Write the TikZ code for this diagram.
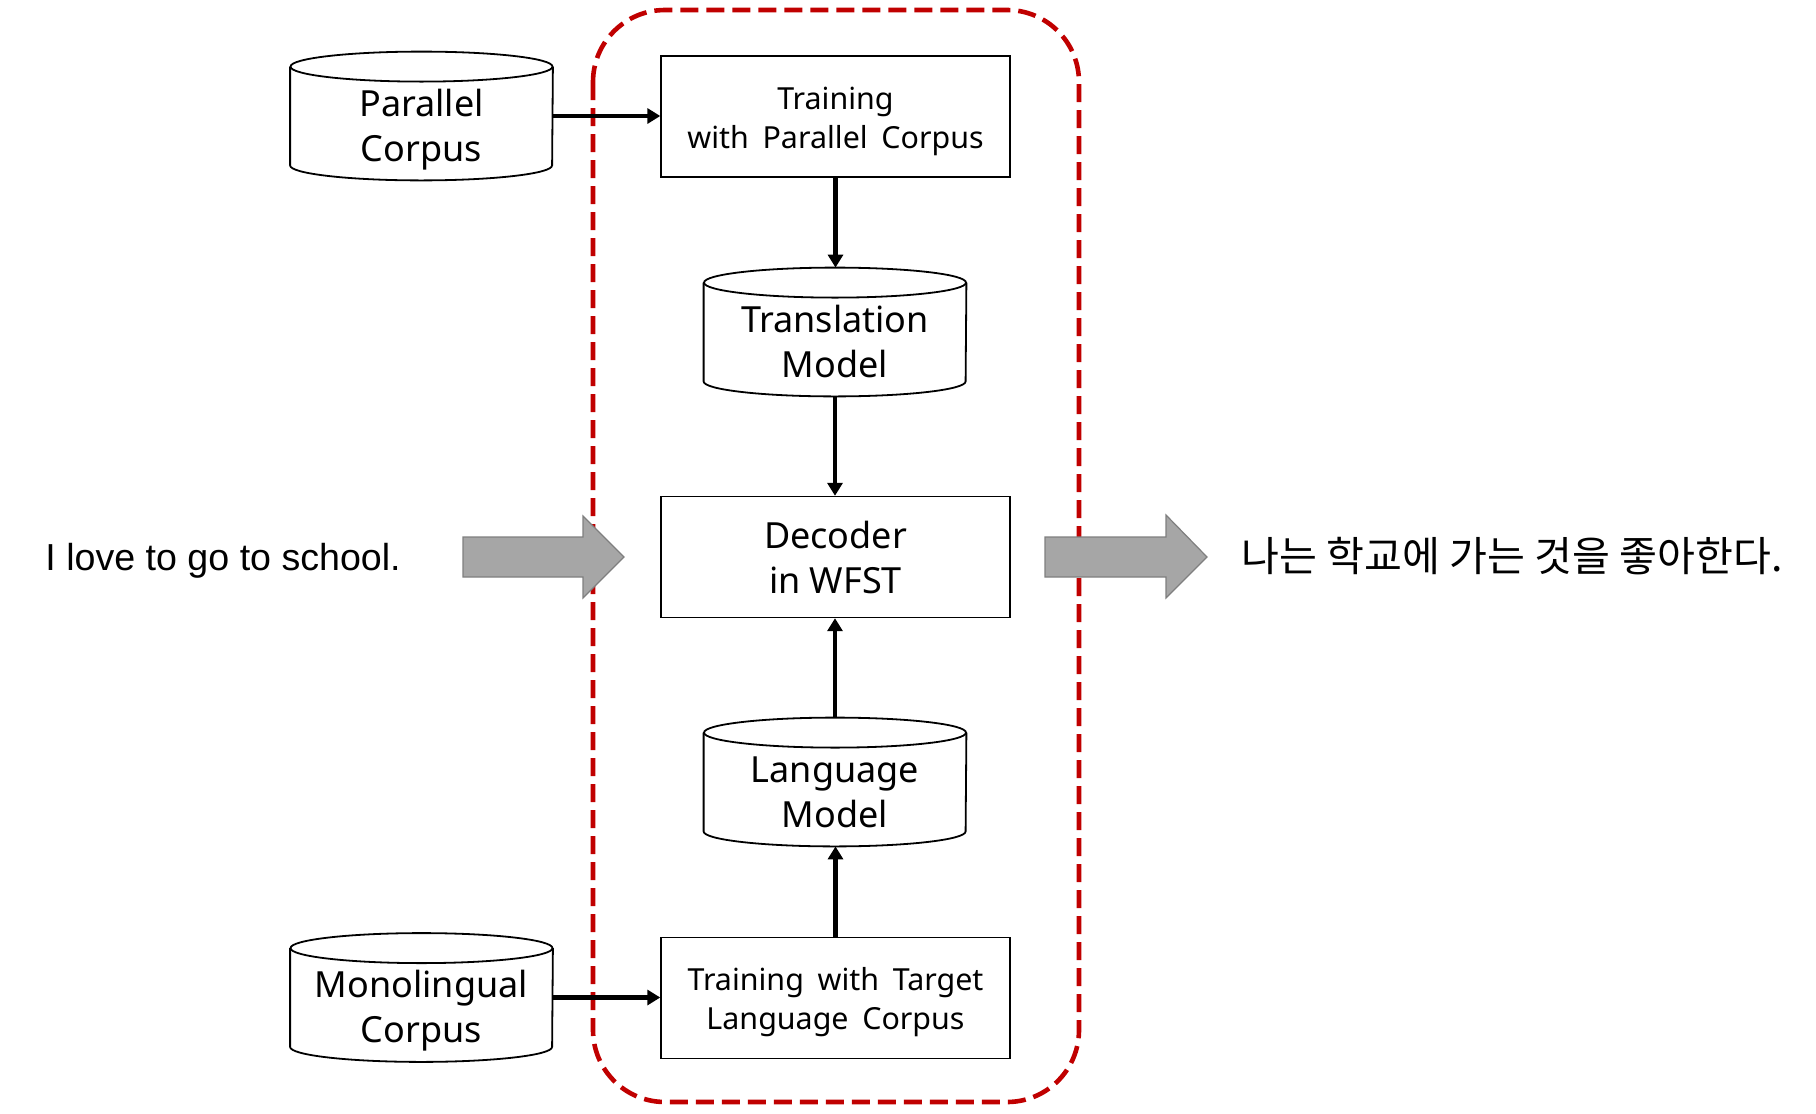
\documentclass[tikz,border=0pt]{standalone}
\usepackage{fontspec}
\setmainfont{Noto Sans}
\newfontfamily\arialf{Liberation Sans}
\newfontfamily\krf{Noto Sans CJK KR}
\usetikzlibrary{arrows.meta,calc}
\definecolor{dashred}{HTML}{C00000}
\definecolor{arrowgray}{HTML}{A6A6A6}
\definecolor{arrowedge}{HTML}{7F7F7F}
\newcommand\cylout[1]{%
  \draw[cylline] ([yshift=-7.5pt]#1.north west) -- ([yshift=7.5pt]#1.south west)
    arc[start angle=180,end angle=360,x radius=65.5pt,y radius=7.5pt]
    -- ([yshift=-7.5pt]#1.north east);
  \draw[cylline] ([yshift=-7.5pt]#1.north) ellipse[x radius=65.5pt,y radius=7.5pt];}
\newcommand\lowered[2]{\raisebox{#1}[\height][\depth]{\begin{tabular}{@{}c@{}}#2\end{tabular}}}
\begin{document}
\begin{tikzpicture}[x=0.5pt,y=0.5pt,
  cylline/.style={line width=0.9pt,black},
  cylnode/.style={minimum width=131pt,minimum height=64pt,inner sep=0pt,
    font=\fontsize{18}{22.5}\selectfont},
  procbox/.style={draw,line width=0.7pt,minimum width=174.5pt,minimum height=60.5pt,
    inner sep=0pt,align=center,font=\fontsize{15.2}{19.5}\selectfont},
  bigbox/.style={procbox,font=\fontsize{18}{22.5}\selectfont},
  conn/.style={line width=2.3pt,-{Triangle[length=6.5pt,width=7.5pt]}},
  fatarrow/.style={fill=arrowgray,draw=arrowedge,line width=0.6pt}]
\useasboundingbox (0,0) rectangle (1816,-1114);
% dashed group
\draw[dashred,line width=2.3pt,dash pattern=on 9pt off 4pt,rounded corners=36pt]
  (593,-10) rectangle (1079,-1102);
% nodes
\node[cylnode] (pc) at (421.5,-116) {\lowered{-6.8pt}{Parallel\\Corpus}};
\cylout{pc}
\node[cylnode] (tm) at (835,-332) {\lowered{-6.8pt}{Translation\\Model}};
\cylout{tm}
\node[cylnode] (lm) at (835,-782) {\lowered{-6.8pt}{Language\\Model}};
\cylout{lm}
\node[cylnode] (mc) at (421.5,-997.5) {\lowered{-6.8pt}{Monolingual\\Corpus}};
\cylout{mc}
\node[procbox] (t1) at (835.5,-116.5) {\lowered{-2.2pt}{Training\\with\hspace{0.45em}Parallel\hspace{0.45em}Corpus}};
\node[bigbox] (dec) at (835.5,-557) {Decoder\\in WFST};
\node[procbox] (t2) at (835.5,-998) {\lowered{-2.2pt}{Training\hspace{0.45em}with\hspace{0.45em}Target\\Language\hspace{0.45em}Corpus}};
% connectors
\draw[conn] (pc.east) -- (pc.east -| t1.west);
\draw[conn] (t1.south) -- (t1.south |- tm.north);
\draw[conn] (tm.south) -- (tm.south |- dec.north);
\draw[conn] (lm.north) -- (lm.north |- dec.south);
\draw[conn] (t2.north) -- (t2.north |- lm.south);
\draw[conn] (mc.east) -- (mc.east -| t2.west);
% fat arrows
\draw[fatarrow] (463,-537) -- (583,-537) -- (583,-516) -- (624,-557) -- (583,-598)
  -- (583,-577) -- (463,-577) -- cycle;
\draw[fatarrow] (1045,-537) -- (1166,-537) -- (1166,-515) -- (1207,-557) -- (1166,-598)
  -- (1166,-577) -- (1045,-577) -- cycle;
% texts
\node[anchor=base west,inner sep=0pt,font=\arialf\fontsize{18.8}{22}\selectfont] (src) at (45,-570) {I love to go to school.};
\node[anchor=base west,inner sep=0pt,font=\krf\fontsize{20.6}{24}\selectfont] (tgt) at (1241,-571) {나는 학교에 가는 것을 좋아한다.};
\end{tikzpicture}
\end{document}
